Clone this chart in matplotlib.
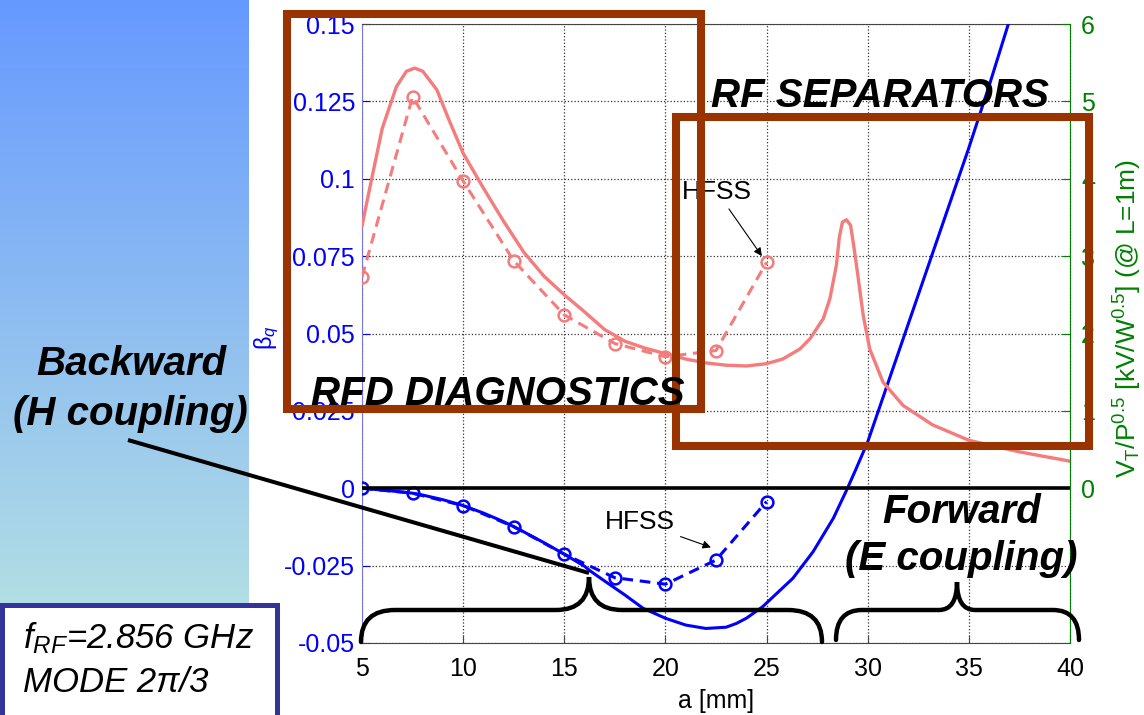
import numpy as np
import matplotlib
matplotlib.use('Agg')
import matplotlib.pyplot as plt
from matplotlib.patches import Rectangle, PathPatch
from matplotlib.path import Path

plt.rcParams['font.family'] = ['Liberation Sans', 'DejaVu Sans']
plt.rcParams['mathtext.fontset'] = 'custom'
plt.rcParams['mathtext.rm'] = 'Liberation Sans'
plt.rcParams['mathtext.it'] = 'Liberation Sans:italic'
plt.rcParams['mathtext.bf'] = 'Liberation Sans:bold'

# group velocity beta_q vs iris radius a (model)
a_beta = [5, 6, 7, 7.5, 8, 9, 10, 11, 12, 12.5, 13, 14, 15, 16, 16.3, 17, 17.4,
          18, 18.9, 20, 21, 22, 23, 23.5, 24, 24.8, 25.5, 26.3, 27.3, 28.3, 29.0,
          29.44, 30, 31, 32, 33, 34, 35, 36, 37]
beta_model = [0.0, -0.0006, -0.0012, -0.0016, -0.0022, -0.0037, -0.0056, -0.0080,
              -0.0108, -0.0124, -0.0141, -0.0176, -0.0213, -0.0252, -0.0268, -0.0300,
              -0.0318, -0.0345, -0.0388, -0.0420, -0.0442, -0.0453, -0.0449, -0.0437,
              -0.0420, -0.0383, -0.0340, -0.0291, -0.0205, -0.0097, 0.0, 0.0065,
              0.0150, 0.034, 0.053, 0.072, 0.091, 0.110, 0.130, 0.151]

# HFSS points
a_hfss = [5, 7.5, 10, 12.5, 15, 17.5, 20, 22.5, 25]
beta_hfss = [0.0, -0.0016, -0.0056, -0.0124, -0.0213, -0.0289, -0.0310, -0.0232, -0.0043]
vt_hfss = [2.73, 5.06, 3.97, 2.94, 2.24, 1.87, 1.70, 1.78, 2.92]

# transverse voltage V_T/sqrt(P) (model)
a_vt = [5.0, 5.4, 6.0, 6.7, 7.2, 7.6, 8.0, 8.7, 9.3, 10.0, 11.0, 12.0, 13.0, 14.0,
        15.0, 16.0, 17.0, 18.0, 19.0, 20.0, 21.0, 22.0, 23.0, 24.0, 25.0, 25.8,
        26.65, 27.14, 27.8, 28.13, 28.45, 28.6, 28.75, 28.95, 29.15, 29.3, 29.45,
        29.78, 30.1, 30.76, 31.75, 33.2, 35.0, 37.5, 40.0]
vt_model = [3.39, 3.90, 4.65, 5.19, 5.39, 5.43, 5.39, 5.15, 4.76, 4.33, 3.88, 3.45,
            3.05, 2.74, 2.50, 2.28, 2.05, 1.90, 1.81, 1.74, 1.67, 1.62, 1.59, 1.58,
            1.61, 1.67, 1.80, 1.93, 2.19, 2.45, 2.88, 3.25, 3.44, 3.47, 3.40, 3.15,
            2.87, 2.23, 1.80, 1.37, 1.07, 0.82, 0.62, 0.47, 0.35]

a_ticks = [5, 10, 15, 20, 25, 30, 35, 40]
beta_ticks = [-0.05, -0.025, 0, 0.025, 0.05, 0.075, 0.1, 0.125, 0.15]
beta_labels = ['-0.05', '-0.025', '0', '0.025', '0.05', '0.075', '0.1', '0.125', '0.15']
vt_ticks = [0, 1, 2, 3, 4, 5, 6]

BLUE = '#0000ff'
PINK = '#f47c7c'
GREEN = '#008000'
BROWN = '#993300'

W, H = 1144, 715
fig = plt.figure(figsize=(W / 100, H / 100), dpi=100)

# slide background strip on the left
bg = fig.add_axes([0, 1 - 604 / H, 249 / W, 604 / H], zorder=-5)
c_top = np.array([102, 153, 255]) / 255
c_bot = np.array([178, 222, 228]) / 255
t = np.linspace(0, 1, 256)[:, None]
bg.imshow((c_top + (c_bot - c_top) * t)[:, None, :], aspect='auto')
bg.axis('off')

ax = fig.add_axes([362 / W, 1 - 643 / H, 708 / W, 619 / H])
ax2 = ax.twinx()

ax.plot(a_beta, beta_model, color=BLUE, lw=2.2, zorder=3)
ax.plot(a_hfss, beta_hfss, color=BLUE, lw=2.2, ls=(0, (3.5, 2.2)), marker='o',
        ms=8.5, mfc='none', mew=1.8, zorder=3)
ax2.plot(a_vt, vt_model, color=PINK, lw=2.4)
ax2.plot(a_hfss, vt_hfss, color=PINK, lw=2.2, ls=(0, (3.5, 2.2)), marker='o',
         ms=8.5, mfc='none', mew=1.8)
ax2.axhline(0, color='k', lw=2.6)

ax.set_xlim(5, 40)
ax.set_ylim(-0.05, 0.15)
ax2.set_ylim(-2, 6)
ax.set_xticks(a_ticks)
ax.set_yticks(beta_ticks)
ax.set_yticklabels(beta_labels)
ax2.set_yticks(vt_ticks)
ax.grid(True, ls=':', color='#333333', lw=0.9)

ax.tick_params(axis='y', colors=BLUE, direction='in', length=6, labelsize=18, pad=5)
ax.tick_params(axis='x', direction='in', length=6, labelsize=18, pad=10, color='#444444')
ax2.tick_params(axis='y', colors=GREEN, direction='in', length=6, labelsize=18, pad=8)

ax.spines['left'].set_color('#7777dd')
ax.spines['right'].set_visible(False)
for s in ('top', 'bottom'):
    ax.spines[s].set_color('#444444')
    ax.spines[s].set_linewidth(0.8)
ax2.spines['left'].set_visible(False)
ax2.spines['top'].set_visible(False)
ax2.spines['bottom'].set_visible(False)
ax2.spines['right'].set_color(GREEN)
ax2.spines['right'].set_linewidth(0.8)

ax.set_xlabel('a [mm]', fontsize=18, labelpad=6)
ax.set_ylabel('β$_q$', color=BLUE, fontsize=17, ha='center', va='center')
ax.yaxis.set_label_coords(-0.134, 0.493)
ax2.set_ylabel(r'V$_\mathrm{T}$/P$^{0.5}$ [kV/W$^{0.5}$] (@ L=1m)', color=GREEN,
               fontsize=19, ha='center', va='center')
ax2.yaxis.set_label_coords(1.082, 0.525)

arrow = dict(arrowstyle='-|>', color='k', lw=0.8, mutation_scale=12, shrinkA=2, shrinkB=0)
ax.annotate('HFSS', xy=(22.25, -0.0191), xytext=(18.75, -0.011), ha='center',
            va='center', fontsize=19, arrowprops=arrow)
ax2.annotate('HFSS', xy=(24.77, 3.0), xytext=(22.55, 3.83), ha='center',
             va='center', fontsize=19, arrowprops=arrow)

# slide annotations, in pixel units
ov = fig.add_axes([0, 0, 1, 1], zorder=10)
ov.set_xlim(0, W)
ov.set_ylim(H, 0)
ov.axis('off')

ov.add_patch(Rectangle((287, 14), 414, 395, fill=False, ec=BROWN, lw=5.8, joinstyle='miter'))
ov.add_patch(Rectangle((676, 117), 413, 329, fill=False, ec=BROWN, lw=5.8, joinstyle='miter'))

big = dict(fontsize=29, fontweight='bold', fontstyle='italic', color='k', va='baseline', ha='center')
ov.text(498, 405, 'RFD DIAGNOSTICS', **big)
ov.text(880, 107, 'RF SEPARATORS', **big)
ov.text(131, 375, 'Backward', **big)
ov.text(130, 425, '(H coupling)', **big)
ov.text(962, 523, 'Forward', **big)
ov.text(961, 570, '(E coupling)', **big)

ov.plot([128, 589], [440, 573], color='k', lw=2.9, solid_capstyle='butt')


def brace(x0, x1, xt, y_end, y_flat, y_tip, r_end, r_tip):
    verts = [(x0, y_end), (x0, y_flat), (x0 + r_end, y_flat),
             (xt - r_tip, y_flat), (xt, y_flat), (xt, y_tip),
             (xt, y_flat), (xt + r_tip, y_flat),
             (x1 - r_end, y_flat), (x1, y_flat), (x1, y_end)]
    codes = [Path.MOVETO, Path.CURVE3, Path.CURVE3, Path.LINETO, Path.CURVE3,
             Path.CURVE3, Path.CURVE3, Path.CURVE3, Path.LINETO, Path.CURVE3, Path.CURVE3]
    ov.add_patch(PathPatch(Path(verts, codes), fill=False, lw=3.2, ec='k', capstyle='round'))


brace(361, 822, 589, 642, 610, 577, 34, 33)
brace(836, 1079, 957, 640, 610, 582, 26, 18)

ov.add_patch(Rectangle((1.5, 604.5), 275.5, 130, fc='white', ec='#333399', lw=3.6))
ov.text(23, 648, r'$f_{RF}$=2.856 GHz', fontsize=25, fontstyle='italic', va='baseline')
ov.text(23, 692, 'MODE 2π/3', fontsize=25, fontstyle='italic', va='baseline')

fig.savefig('out.png', dpi=100)
